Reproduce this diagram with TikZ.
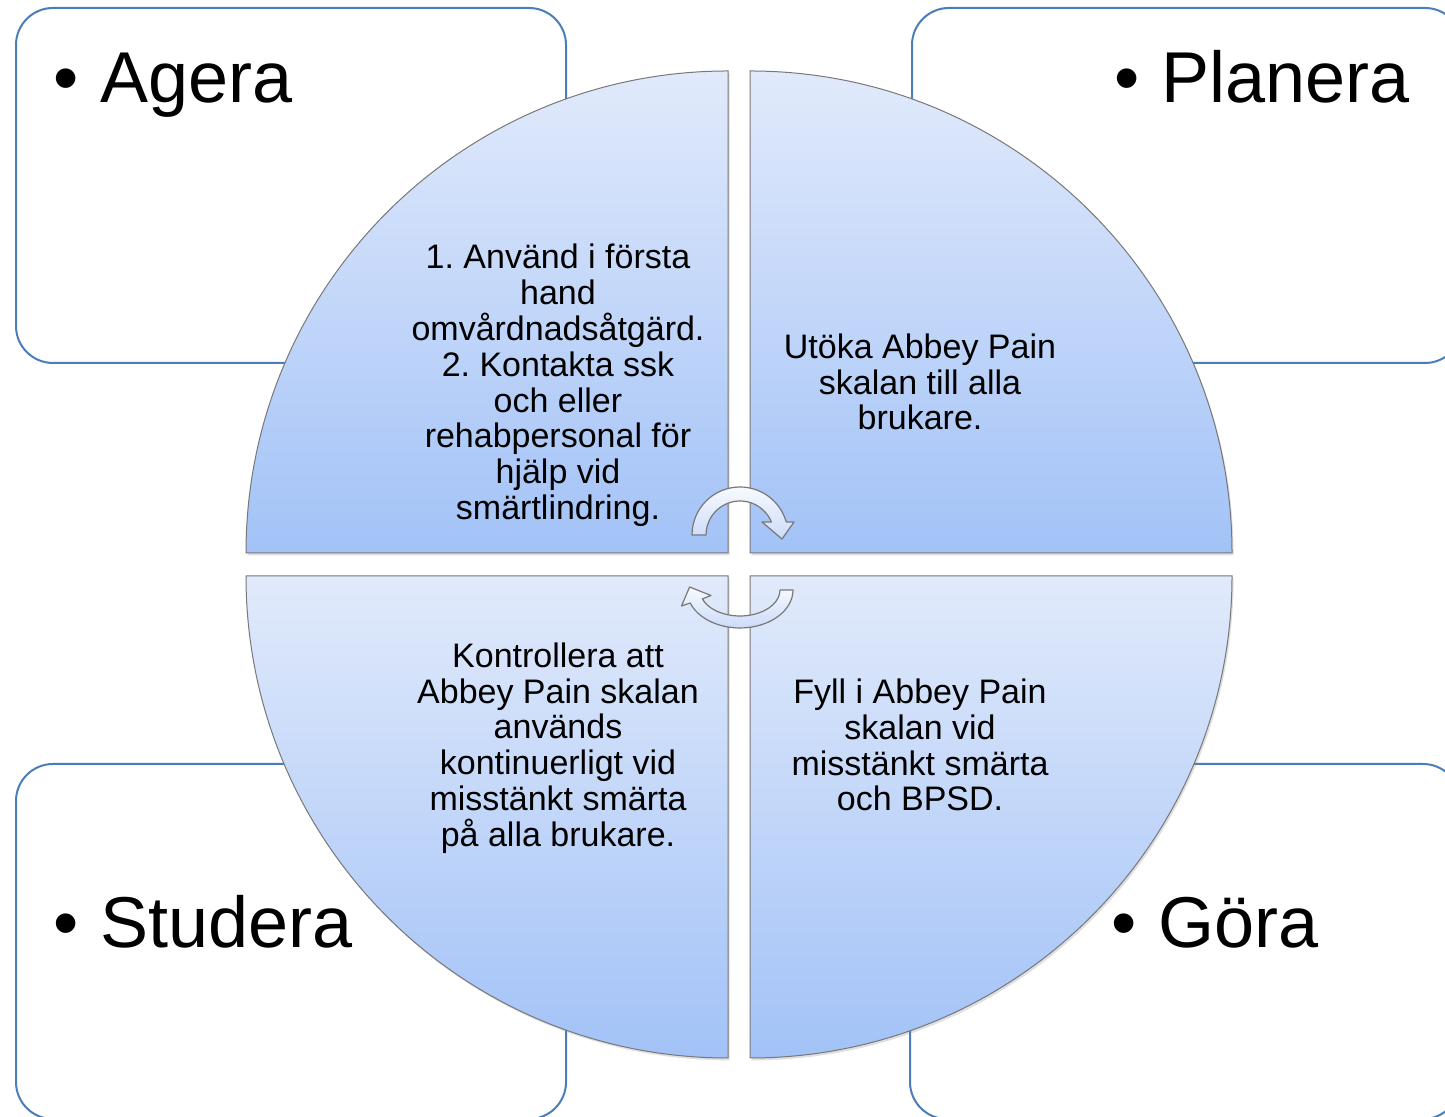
\documentclass[tikz,border=0pt]{standalone}
\usepackage{fontspec}
\setmainfont{Liberation Sans}
\usetikzlibrary{shadows}
\frenchspacing

\definecolor{boxblue}{RGB}{74,126,187}
\definecolor{quadtop}{RGB}{225,234,251}
\definecolor{quadbottom}{RGB}{162,194,247}
\definecolor{quadline}{RGB}{120,120,120}
\definecolor{arrowtop}{RGB}{247,250,255}
\definecolor{arrowbottom}{RGB}{204,219,249}

\tikzset{
  phasebox/.style={draw=boxblue, line width=1pt, rounded corners=18.5pt,
    minimum width=275pt, minimum height=177.5pt, inner sep=0pt},
  phaselabel/.style={anchor=base west, inner sep=0pt,
    font=\fontsize{36}{40}\selectfont},
  quadrant/.style={draw=quadline, line width=0.5pt,
    top color=quadtop, bottom color=quadbottom,
    drop shadow={shadow xshift=0.8pt, shadow yshift=-1.2pt, opacity=0.25}},
  quadtext/.style={align=center, inner sep=0pt,
    font=\fontsize{17}{17.9}\selectfont},
  turnarrow/.style={draw=quadline, line width=0.6pt, line join=round,
    top color=arrowtop, bottom color=arrowbottom}
}

\begin{document}
\begin{tikzpicture}[x=0.5pt, y=0.5pt]
      \useasboundingbox (0,0) rectangle (1445,1117);
      \clip (0,0) rectangle (1445,1117);
      \fill[white] (0,0) rectangle (1445,1117);
      % corner boxes
      \node[phasebox] (agerabox) at (291,931.5) {};
      \node[phasebox] (planerabox) at (1187,931.5) {};
      \node[phasebox] (studerabox) at (291,175.5) {};
      \node[phasebox] (gorabox) at (1185,175.5) {};
      \node[phaselabel] (agera) at (53.5,1014) {•\hspace{10.75pt}Agera};
      \node[phaselabel] (planera) at (1114.5,1014) {•\hspace{10.75pt}Planera};
      \node[phaselabel] (studera) at (53.5,169) {•\hspace{10.75pt}Studera};
      \node[phaselabel] (gora) at (1111.5,169) {•\hspace{10.75pt}Göra};
      % circle in four parts
      \path[quadrant] (728,564) -- (246,564) arc (180:90:482) -- cycle;
      \path[quadrant] (750,564) -- (750,1046) arc (90:0:482) -- cycle;
      \path[quadrant] (728,541) -- (246,541) arc (180:270:482) -- cycle;
      \path[quadrant] (750,541) -- (1232,541) arc (0:-90:482) -- cycle;
      \node[quadtext] (agera-text) at (558,731.5)
        {1. Använd i första\\hand\\omvårdnadsåtgärd.\\2. Kontakta ssk\\och eller\\rehabpersonal för\\hjälp vid\\smärtlindring.};
      \node[quadtext] (planera-text) at (920,735)
        {Utöka Abbey Pain\\skalan till alla\\brukare.};
      \node[quadtext] (studera-text) at (558,369)
        {Kontrollera att\\Abbey Pain skalan\\används\\kontinuerligt vid\\misstänkt smärta\\på alla brukare.};
      \node[quadtext] (gora-text) at (920,372)
        {Fyll i Abbey Pain\\skalan vid\\misstänkt smärta\\och BPSD.};
      % turning arrows
      \path[turnarrow] (692,582) arc (180:15.7:48) -- (794,595) -- (782,578)
        -- (762,595) -- (771.4,595) arc (22.5:180:34) -- cycle;
      \path[turnarrow] (793,527)
        arc[start angle=0, end angle=-160, x radius=53, y radius=38]
        -- (681.5,511) -- (689.6,530) -- (711,521.5) -- (702.4,518.1)
        arc[start angle=-160, end angle=0, x radius=40, y radius=26] -- cycle;
    \end{tikzpicture}
\end{document}
